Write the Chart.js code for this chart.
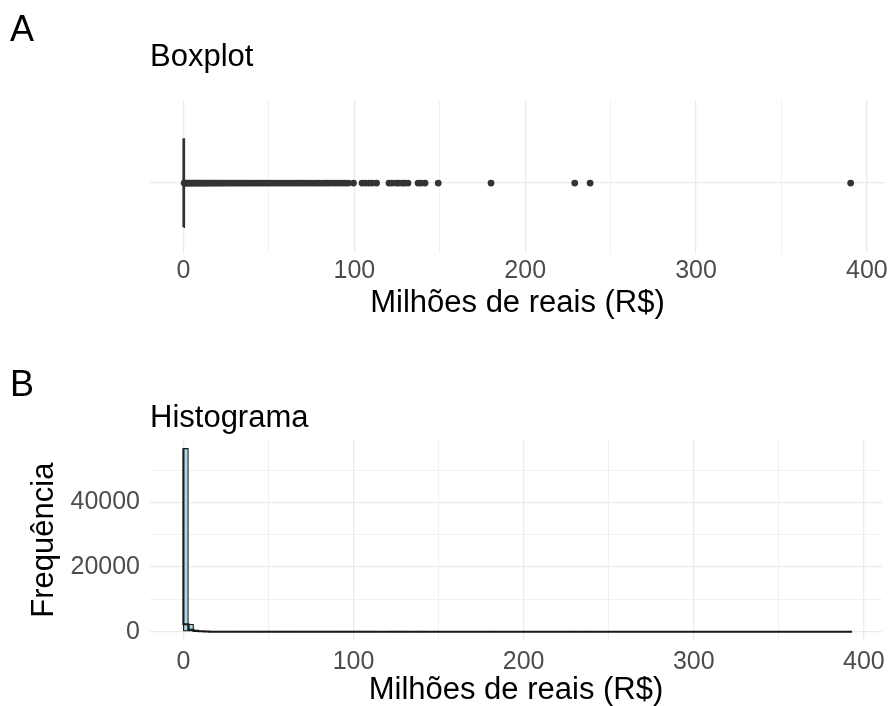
<!DOCTYPE html>
<html><head><meta charset="utf-8">
<script src="https://cdn.jsdelivr.net/npm/chart.js@4.4.0/dist/chart.umd.min.js"></script>
<style>
html,body{margin:0;padding:0;background:#fff;}
body{width:891px;height:706px;position:relative;overflow:hidden;font-family:"Liberation Sans",Arial,sans-serif;}
canvas{position:absolute;left:0;}
.tag{position:absolute;font-size:36px;line-height:1;color:#000;font-family:"Liberation Sans",Arial,sans-serif;}
</style></head><body>
<canvas id="box" width="891" height="340" style="top:0px"></canvas>
<canvas id="hist" width="891" height="366" style="top:340px"></canvas>
<div class="tag" style="left:10px;top:11px">A</div>
<div class="tag" style="left:10px;top:366px">B</div>
<script>
// ---------- data ----------
const xMajorTicks = [0, 100, 200, 300, 400];
const xMinorTicks = [50, 150, 250, 350];
const yMajorTicks = [0, 20000, 40000];
const yMinorTicks = [10000, 30000, 50000];
const xLimits = [-19.6, 410.6];

// boxplot statistics (millions R$): lower whisker, q1, median, q3, upper whisker
const boxStats = [0, 0.03, 0.12, 0.38, 0.9];
// outliers (millions R$)
const outlierValues = [0.4, 1.1, 1.8, 2.6, 3.3, 4.1, 4.9, 5.6, 6.4, 7.2, 8.0, 8.9, 9.7, 10.6, 11.4, 12.3,
  13.2, 14.1, 15.0, 16.0, 17.1, 18.1, 19.2, 20.3, 21.5, 22.6, 23.8, 25.0, 26.3, 27.5, 28.9, 30.2, 31.6,
  33.0, 34.3, 35.8, 37.2, 38.6, 40.1, 41.7, 43.2, 44.6, 46.1, 47.7, 49.2, 50.8, 52.3, 53.9, 55.4, 57.0,
  58.7, 60.1, 61.8, 63.3, 64.9, 66.6, 68.2, 69.7, 71.3, 73.0, 74.6, 76.3, 77.9, 79.4, 81.1, 82.8, 84.3,
  86.0, 87.9, 89.4, 91.2, 92.8, 94.6, 96.4, 99.5, 104.5, 106.5, 108.5, 110.5, 113.0, 120.3, 122.0, 124.5,
  126.0, 128.0, 129.5, 131.4, 137.3, 139.0, 141.4, 149.1, 180.0, 229.0, 238.0, 390.5];

// histogram: bins of width 3 starting at 0
const binWidth = 3;
const binOrigin = 0;
const binCounts = [
  56700, 2350, 620, 260, 140, 85, 60, 42, 33, 25,
  20, 16, 13, 11, 9, 8, 7, 6, 5, 5,
  4, 4, 3, 3, 3, 2, 2, 2, 2, 2,
  2, 1, 1, 1, 1, 2, 1, 2, 0, 0,
  2, 1, 2, 2, 0, 1, 2, 1, 0, 1,
  0, 0, 0, 0, 0, 0, 0, 0, 0, 0,
  1, 0, 0, 0, 0, 0, 0, 0, 0, 0,
  0, 0, 0, 0, 0, 0, 1, 0, 0, 1,
  0, 0, 0, 0, 0, 0, 0, 0, 0, 0,
  0, 0, 0, 0, 0, 0, 0, 0, 0, 0,
  0, 0, 0, 0, 0, 0, 0, 0, 0, 0,
  0, 0, 0, 0, 0, 0, 0, 0, 0, 0,
  0, 0, 0, 0, 0, 0, 0, 0, 0, 0,
  1
];

const titleBox = "Boxplot";
const titleHist = "Histograma";
const xTitle = "Milhões de reais (R$)";
const yTitle = "Frequência";

// ---------- style ----------
const FONT = '"Liberation Sans", Arial, sans-serif';
const gridColor = '#EBEBEB';
const tickColor = '#4D4D4D';
const darkColor = '#333333';
const outlineColor = '#1a1a1a';
Chart.defaults.font.family = FONT;
Chart.defaults.animation = false;

function tickSetter(major, minor) {
  return (scale) => {
    scale.ticks = major.concat(minor).sort((a, b) => a - b).map(v => ({ value: v }));
  };
}
function gridWidth(major) {
  return (ctx) => (ctx.tick && major.includes(ctx.tick.value)) ? 1.3 : 0.7;
}
function xAxis(tickPad, titlePadBottom, titleLH, height) {
  return {
    type: 'linear', min: xLimits[0], max: xLimits[1], offset: false,
    afterBuildTicks: tickSetter(xMajorTicks, xMinorTicks),
    afterFit: (s) => { s.height = height; },
    grid: { color: gridColor, lineWidth: gridWidth(xMajorTicks), drawTicks: false, offset: false },
    border: { display: false },
    ticks: { color: tickColor, font: { size: 25 }, padding: tickPad, maxRotation: 0, autoSkip: false,
      callback: (v) => xMajorTicks.includes(v) ? String(v) : '' },
    title: { display: true, text: xTitle, color: '#000', font: { size: 31, lineHeight: titleLH },
      padding: { top: 0, bottom: titlePadBottom } }
  };
}

// ---------- boxplot ----------
const boxY = 1, boxHalf = 0.375;
const [wLo, q1, med, q3, wHi] = boxStats;
new Chart(document.getElementById('box'), {
  type: 'scatter',
  data: {
    datasets: [
      { // box
        type: 'line', showLine: true, pointRadius: 0, borderColor: darkColor, borderWidth: 2, fill: false,
        data: [{x: q1, y: boxY - boxHalf}, {x: q3, y: boxY - boxHalf}, {x: q3, y: boxY + boxHalf},
               {x: q1, y: boxY + boxHalf}, {x: q1, y: boxY - boxHalf}]
      },
      { // median
        type: 'line', showLine: true, pointRadius: 0, borderColor: darkColor, borderWidth: 2,
        data: [{x: med, y: boxY - boxHalf}, {x: med, y: boxY + boxHalf}]
      },
      { // whiskers
        type: 'line', showLine: true, pointRadius: 0, borderColor: darkColor, borderWidth: 1.5,
        data: [{x: wLo, y: boxY}, {x: q1, y: boxY}, {x: NaN, y: NaN}, {x: q3, y: boxY}, {x: wHi, y: boxY}]
      },
      { // outliers
        data: outlierValues.map(v => ({x: v, y: boxY})),
        pointRadius: 3.4, pointBackgroundColor: darkColor, pointBorderWidth: 0, borderColor: darkColor
      }
    ]
  },
  options: {
    responsive: false, devicePixelRatio: 1, animation: false,
    layout: { padding: { top: 39, left: 0, right: 6, bottom: 0 } },
    plugins: {
      legend: { display: false }, tooltip: { enabled: false },
      title: { display: true, text: titleBox, align: 'start', fullSize: false, color: '#000',
        font: { size: 31, weight: 'normal', lineHeight: 1.2 }, padding: { top: 0, bottom: 24 } }
    },
    scales: {
      x: xAxis(3, 18, 1.2, 87),
      y: {
        type: 'linear', min: 0.403, max: 1.708,
        afterBuildTicks: (s) => { s.ticks = [{ value: boxY }]; },
        afterFit: (s) => { s.width = 150; },
        grid: { color: gridColor, lineWidth: 1.3, drawTicks: false },
        border: { display: false },
        ticks: { display: false }
      }
    }
  }
});

// ---------- histogram ----------
const maxCount = Math.max(...binCounts);
const binPoints = binCounts.map((c, i) => ({ x: binOrigin + (i + 0.5) * binWidth, y: c }));
// outline of the histogram (step line along the bin tops, from the same counts)
const outlinePoints = binCounts.map((c, i) => ({ x: binOrigin + i * binWidth, y: c }))
  .concat([{ x: binOrigin + binCounts.length * binWidth, y: binCounts[binCounts.length - 1] }]);
new Chart(document.getElementById('hist'), {
  type: 'bar',
  data: {
    datasets: [
      {
        type: 'line', data: outlinePoints, stepped: 'after', borderColor: outlineColor,
        borderWidth: 2, pointRadius: 0, fill: false
      },
      {
        data: binPoints,
        backgroundColor: '#ADD8E6', borderColor: outlineColor, borderWidth: 1.2,
        borderSkipped: false, barPercentage: 1, categoryPercentage: 1
      }
    ]
  },
  options: {
    responsive: false, devicePixelRatio: 1, animation: false,
    layout: { padding: { top: 60, left: 0, right: 6, bottom: 0 } },
    plugins: {
      legend: { display: false }, tooltip: { enabled: false },
      title: { display: true, text: titleHist, align: 'start', fullSize: false, color: '#000',
        font: { size: 31, weight: 'normal', lineHeight: 1.2 }, padding: { top: 0, bottom: 2 } }
    },
    scales: {
      x: xAxis(6, 0, 1.0, 65),
      y: {
        type: 'linear', min: -0.05 * maxCount, max: 1.05 * maxCount,
        afterBuildTicks: tickSetter(yMajorTicks, yMinorTicks),
        afterFit: (s) => { s.width = 150; },
        grid: { color: gridColor, lineWidth: gridWidth(yMajorTicks), drawTicks: false },
        border: { display: false },
        ticks: { color: tickColor, font: { size: 25 }, padding: 10,
          callback: (v) => yMajorTicks.includes(v) ? String(v) : '' },
        title: { display: true, text: yTitle, color: '#000', font: { size: 31, lineHeight: 1.2 },
          padding: { top: 26, bottom: 0 } }
      }
    }
  }
});
</script>
</body></html>
